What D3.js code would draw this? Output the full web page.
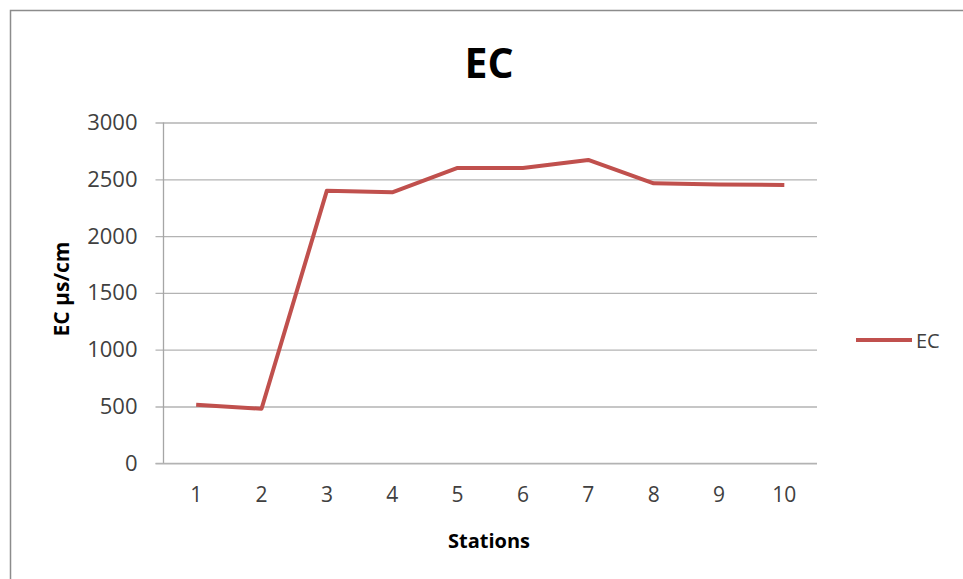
<!DOCTYPE html>
<html>
<head>
<meta charset="utf-8">
<script src="https://cdn.jsdelivr.net/npm/d3@7"></script>
<style>
  html, body { margin: 0; padding: 0; background: #fff; }
  svg { display: block; font-family: "Open Sans", "Liberation Sans", sans-serif; }
</style>
</head>
<body>
<svg id="chart" width="963" height="579"></svg>
<script>
// Electrical conductivity per sampling station
const stations = ["1", "2", "3", "4", "5", "6", "7", "8", "9", "10"];
const ecValues = [515, 480, 2400, 2385, 2600, 2600, 2670, 2465, 2455, 2450];
const yTicks = [0, 500, 1000, 1500, 2000, 2500, 3000];
const seriesName = "EC";
const chartTitle = "EC";
const xTitle = "Stations";
const yTitle = "EC µs/cm";

const svg = d3.select("#chart");
const plot = { left: 163.5, right: 817, top: 122.5, bottom: 463.3 };
const lineColor = "#C0504D";

// outer chart frame
svg.append("rect")
  .attr("x", 10.5).attr("y", 10.5)
  .attr("width", 1000).attr("height", 1000)
  .attr("fill", "#fff").attr("stroke", "#8c8c8c").attr("stroke-width", 1.5);

const x = d3.scaleBand().domain(stations).range([plot.left, plot.right]);
const y = d3.scaleLinear().domain([0, 3000]).range([plot.bottom, plot.top]);

// horizontal gridlines with short outward ticks
const yAxis = d3.axisLeft(y).tickValues(yTicks).tickFormat(d3.format("d"))
  .tickSize(plot.right - plot.left + 8).tickPadding(18);
const gy = svg.append("g").attr("transform", `translate(${plot.right},0)`).call(yAxis);
gy.select(".domain").remove();
gy.selectAll(".tick line").attr("stroke", "#b3b3b3").attr("stroke-width", 1.3);
gy.selectAll(".tick text")
  .attr("fill", "#404040").attr("font-size", 22).attr("font-family", "Open Sans, sans-serif");

// vertical axis line
svg.append("line")
  .attr("x1", plot.left).attr("x2", plot.left)
  .attr("y1", plot.top).attr("y2", plot.bottom)
  .attr("stroke", "#a6a6a6").attr("stroke-width", 1.3);

// category axis
const xAxis = d3.axisBottom(x).tickSize(0).tickPadding(24);
const gx = svg.append("g").attr("transform", `translate(0,${plot.bottom})`).call(xAxis);
gx.select(".domain").attr("d", `M${plot.left - 8},0H${plot.right}`).attr("stroke", "#b3b3b3").attr("stroke-width", 1.3);
gx.selectAll(".tick text")
  .attr("fill", "#404040").attr("font-size", 21).attr("font-family", "Open Sans, sans-serif");

// data line
const line = d3.line()
  .x((d, i) => x(stations[i]) + x.bandwidth() / 2)
  .y(d => y(d));
svg.append("path")
  .datum(ecValues)
  .attr("d", line)
  .attr("fill", "none")
  .attr("stroke", lineColor)
  .attr("stroke-width", 4)
  .attr("stroke-linejoin", "round");

// titles
svg.append("text")
  .attr("x", 489).attr("y", 78)
  .attr("text-anchor", "middle")
  .attr("font-size", 41).attr("font-weight", "bold").attr("fill", "#000")
  .text(chartTitle);

svg.append("text")
  .attr("x", 489).attr("y", 548)
  .attr("text-anchor", "middle")
  .attr("font-size", 20).attr("font-weight", "bold").attr("fill", "#000")
  .text(xTitle);

svg.append("text")
  .attr("transform", "translate(69,289) rotate(-90)")
  .attr("text-anchor", "middle")
  .attr("font-size", 21).attr("font-weight", "bold").attr("fill", "#000")
  .text(yTitle);

// legend
const lg = svg.append("g").attr("transform", "translate(856,340)");
lg.append("line").attr("x1", 0).attr("x2", 56).attr("y1", 0).attr("y2", 0)
  .attr("stroke", lineColor).attr("stroke-width", 4);
lg.append("text").attr("x", 60).attr("y", 8)
  .attr("font-size", 20).attr("fill", "#404040")
  .text(seriesName);
</script>
</body>
</html>
